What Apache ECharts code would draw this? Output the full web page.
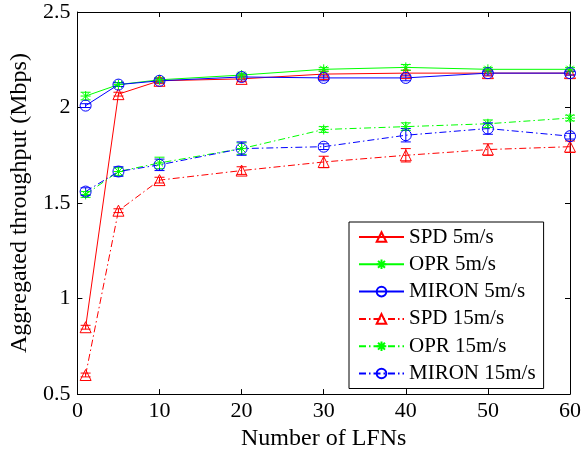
<!DOCTYPE html>
<html>
<head>
<meta charset="utf-8">
<script src="https://cdn.jsdelivr.net/npm/echarts@6/dist/echarts.min.js"></script>
<style>html,body{margin:0;padding:0;background:#fff}#c{width:584px;height:456px}</style>
</head>
<body>
<div id="c"></div>
<script>
var xValues = [1, 5, 10, 20, 30, 40, 50, 60];
var seriesNames = ['SPD 5m/s', 'OPR 5m/s', 'MIRON 5m/s', 'SPD 15m/s', 'OPR 15m/s', 'MIRON 15m/s'];
var spd5 = [0.85, 2.07, 2.14, 2.15, 2.175, 2.18, 2.18, 2.18];
var opr5 = [2.06, 2.12, 2.145, 2.17, 2.20, 2.21, 2.20, 2.20];
var miron5 = [2.01, 2.12, 2.14, 2.16, 2.155, 2.155, 2.18, 2.18];
var spd15 = [0.60, 1.46, 1.62, 1.67, 1.715, 1.75, 1.78, 1.795];
var opr15 = [1.545, 1.665, 1.71, 1.785, 1.885, 1.90, 1.915, 1.945];
var miron15 = [1.56, 1.665, 1.70, 1.785, 1.795, 1.855, 1.89, 1.85];
var spd5Err = [0.01, 0.01, 0.015, 0.015, 0.015, 0.015, 0.015, 0.01];
var opr5Err = [0.02, 0.01, 0.01, 0.01, 0.01, 0.015, 0.01, 0.01];
var miron5Err = [0.01, 0.01, 0.01, 0.015, 0.015, 0.015, 0.01, 0.01];
var spd15Err = [0.01, 0.01, 0.015, 0.02, 0.03, 0.035, 0.03, 0.03];
var opr15Err = [0.015, 0.02, 0.03, 0.03, 0.015, 0.02, 0.02, 0.015];
var miron15Err = [0.02, 0.025, 0.03, 0.035, 0.015, 0.035, 0.03, 0.015];

var FONT = '"Liberation Serif", "Times New Roman", serif';
var RED = '#ff0000', GREEN = '#00ff00', BLUE = '#0000ff';
var ASTER = 'path://M0,-5L0,5M-5,0L5,0M-3.6,-3.6L3.6,3.6M-3.6,3.6L3.6,-3.6';
var DASHDOT = [7, 3, 1.5, 3];

var defs = [
  {name: seriesNames[0], y: spd5, e: spd5Err, color: RED, symbol: 'triangle', dash: 'solid'},
  {name: seriesNames[1], y: opr5, e: opr5Err, color: GREEN, symbol: ASTER, dash: 'solid'},
  {name: seriesNames[2], y: miron5, e: miron5Err, color: BLUE, symbol: 'circle', dash: 'solid'},
  {name: seriesNames[3], y: spd15, e: spd15Err, color: RED, symbol: 'triangle', dash: DASHDOT},
  {name: seriesNames[4], y: opr15, e: opr15Err, color: GREEN, symbol: ASTER, dash: DASHDOT},
  {name: seriesNames[5], y: miron15, e: miron15Err, color: BLUE, symbol: 'circle', dash: DASHDOT}
];

var series = [];
defs.forEach(function (d, k) {
  series.push({
    name: d.name,
    type: 'line',
    data: xValues.map(function (x, i) { return [x, d.y[i]]; }),
    symbol: d.symbol,
    symbolSize: d.symbol === ASTER ? 10 : 11,
    showAllSymbol: true,
    color: d.color,
    lineStyle: {color: d.color, width: 1, type: d.dash},
    itemStyle: {color: 'rgba(255,255,255,0)', borderColor: d.color, borderWidth: 1},
    emphasis: {disabled: true},
    animation: false,
    z: 3
  });
  series.push({
    name: 'err' + k,
    type: 'custom',
    data: xValues.map(function (x, i) { return [x, d.y[i], d.e[i]]; }),
    renderItem: function (params, api) {
      var x = api.value(0), y = api.value(1), e = api.value(2);
      var top = api.coord([x, y + e]);
      var bot = api.coord([x, y - e]);
      var hw = 5;
      var st = {stroke: d.color, lineWidth: 1, fill: null};
      return {
        type: 'group',
        children: [
          {type: 'line', shape: {x1: top[0], y1: top[1], x2: bot[0], y2: bot[1]}, style: st},
          {type: 'line', shape: {x1: top[0] - hw, y1: top[1], x2: top[0] + hw, y2: top[1]}, style: st},
          {type: 'line', shape: {x1: bot[0] - hw, y1: bot[1], x2: bot[0] + hw, y2: bot[1]}, style: st}
        ]
      };
    },
    silent: true,
    animation: false,
    z: 2
  });
});

var axisCommon = {
  axisLine: {show: true, onZero: false, lineStyle: {color: '#000', width: 1}},
  axisTick: {show: true, inside: true, length: 5, lineStyle: {color: '#000', width: 1}},
  splitLine: {show: false}
};

var chart = echarts.init(document.getElementById('c'), null, {renderer: 'canvas'});
chart.setOption({
  backgroundColor: '#fff',
  animation: false,
  textStyle: {fontFamily: FONT},
  grid: {left: 75, right: 13, top: 12, bottom: 57, containLabel: false},
  xAxis: [
    Object.assign({
      type: 'value', min: 0, max: 60, interval: 10, position: 'bottom',
      name: 'Number of LFNs', nameLocation: 'middle', nameGap: 26,
      nameTextStyle: {fontFamily: FONT, fontSize: 24, color: '#000'},
      axisLabel: {fontFamily: FONT, fontSize: 22, color: '#000', margin: 6}
    }, axisCommon),
    Object.assign({
      type: 'value', min: 0, max: 60, interval: 10, position: 'top',
      axisLabel: {show: false}
    }, axisCommon)
  ],
  yAxis: [
    Object.assign({
      type: 'value', min: 0.5, max: 2.5, interval: 0.5, position: 'left',
      name: 'Aggregated throughput (Mbps)', nameLocation: 'middle', nameGap: 44,
      nameTextStyle: {fontFamily: FONT, fontSize: 24, color: '#000'},
      axisLabel: {fontFamily: FONT, fontSize: 22, color: '#000', margin: 7}
    }, axisCommon),
    Object.assign({
      type: 'value', min: 0.5, max: 2.5, interval: 0.5, position: 'right',
      axisLabel: {show: false}
    }, axisCommon)
  ],
  legend: {
    data: seriesNames,
    orient: 'vertical',
    left: 349, top: 222,
    padding: [4, 8, 4, 9],
    itemWidth: 45, itemHeight: 12, itemGap: 5.3,
    backgroundColor: '#fff',
    borderColor: '#000', borderWidth: 1, borderRadius: 0,
    textStyle: {fontFamily: FONT, fontSize: 21, color: '#000', lineHeight: 22},
    selectedMode: false
  },
  series: series
});
</script>
</body>
</html>
